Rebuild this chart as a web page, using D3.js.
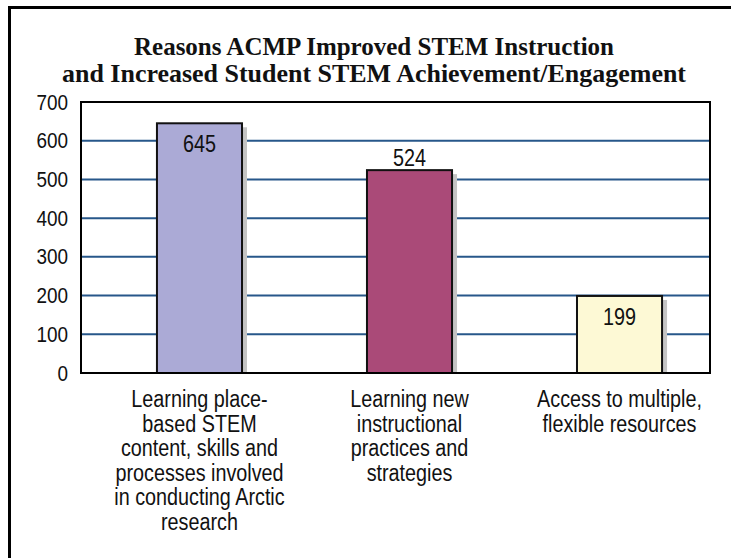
<!DOCTYPE html>
<html>
<head>
<meta charset="utf-8">
<script src="https://cdn.jsdelivr.net/npm/d3@7"></script>
<style>
  body { margin: 0; background: #fff; }
  text { font-family: "Liberation Sans", Arial, sans-serif; fill: #111; }
</style>
</head>
<body>
<script>
// data
var categories = ["place", "instr", "access"];
var values = [645, 524, 199];
var catLabels = [
  ["Learning place-", "based STEM", "content, skills and", "processes involved", "in conducting Arctic", "research"],
  ["Learning new", "instructional", "practices and", "strategies"],
  ["Access to multiple,", "flexible resources"]
];
var barColors = ["#abaad6", "#aa4a78", "#fdf9d5"];
var labelInside = [true, false, true];
var yTicks = [0, 100, 200, 300, 400, 500, 600, 700];
var titleLines = ["Reasons ACMP Improved STEM Instruction",
                  "and Increased Student STEM Achievement/Engagement"];

var W = 731, H = 558;
var plot = {left: 81, right: 710, top: 102, bottom: 373};
var narrow = 0.86; // squeeze sans text, the original uses a narrow face

var svg = d3.select("body").append("svg")
    .attr("width", W).attr("height", H);

// outer frame (only top and left edges visible)
svg.append("path")
    .attr("d", "M9.5," + (H + 5) + "V7.5H" + (W + 5))
    .attr("fill", "none").attr("stroke", "#000").attr("stroke-width", 3);

// title
var titleWidths = [480, 624];
svg.selectAll(".title").data(titleLines).enter().append("text")
    .attr("class", "title")
    .attr("x", 374)
    .attr("y", function(d, i) { return 55 + i * 27; })
    .attr("text-anchor", "middle")
    .attr("textLength", function(d, i) { return titleWidths[i]; })
    .attr("lengthAdjust", "spacingAndGlyphs")
    .style("font-family", "'Liberation Serif', 'Times New Roman', serif")
    .style("font-weight", "bold")
    .style("font-size", "26px")
    .text(function(d) { return d; });

// scales
var x = d3.scaleBand().domain(categories)
    .range([plot.left, plot.right])
    .paddingInner(0.595).paddingOuter(0.295).align(0.613);
var y = d3.scaleLinear().domain([0, 700]).range([plot.bottom, plot.top]);

// gridlines
svg.append("g").selectAll("line")
    .data(yTicks.filter(function(d) { return d > 0 && d < 700; }))
    .enter().append("line")
    .attr("x1", plot.left).attr("x2", plot.right)
    .attr("y1", function(d) { return y(d); })
    .attr("y2", function(d) { return y(d); })
    .attr("stroke", "#27578a").attr("stroke-width", 2);

// bar shadows
svg.append("g").selectAll("rect")
    .data(values).enter().append("rect")
    .attr("x", function(d, i) { return x(categories[i]) + 4; })
    .attr("y", function(d) { return y(d) + 4; })
    .attr("width", x.bandwidth() + 1)
    .attr("height", function(d) { return plot.bottom - y(d) - 4; })
    .attr("fill", "#c4c4c4");

// bars
svg.append("g").selectAll("rect")
    .data(values).enter().append("rect")
    .attr("x", function(d, i) { return x(categories[i]); })
    .attr("y", function(d) { return y(d); })
    .attr("width", x.bandwidth())
    .attr("height", function(d) { return plot.bottom - y(d); })
    .attr("fill", function(d, i) { return barColors[i]; })
    .attr("stroke", "#111").attr("stroke-width", 2);

// value labels
svg.append("g").selectAll("text")
    .data(values).enter().append("text")
    .attr("transform", function(d, i) {
      var cx = x(categories[i]) + x.bandwidth() / 2;
      var cy = labelInside[i] ? y(d) + 29 : y(d) - 4;
      return "translate(" + cx + "," + cy + ") scale(" + narrow + ",1)";
    })
    .attr("text-anchor", "middle")
    .style("font-size", "23px")
    .text(function(d) { return d; });

// plot frame
svg.append("rect")
    .attr("x", plot.left).attr("y", plot.top)
    .attr("width", plot.right - plot.left)
    .attr("height", plot.bottom - plot.top)
    .attr("fill", "none").attr("stroke", "#000").attr("stroke-width", 2);

// y axis labels
var yAxis = d3.axisLeft(y).tickValues(yTicks).tickSize(0).tickPadding(12);
var gy = svg.append("g")
    .attr("transform", "translate(" + plot.left + ",0)")
    .call(yAxis);
gy.select(".domain").remove();
gy.selectAll("text")
    .attr("x", -13 / narrow)
    .attr("transform", "scale(" + narrow + ",1)")
    .style("font-family", "'Liberation Sans', Arial, sans-serif")
    .style("font-size", "22px")
    .attr("fill", "#111");

// category labels
var cat = svg.append("g").selectAll("text")
    .data(catLabels).enter().append("text")
    .attr("transform", function(d, i) {
      var cx = x(categories[i]) + x.bandwidth() / 2;
      return "translate(" + cx + ",407) scale(" + narrow + ",1)";
    })
    .attr("text-anchor", "middle")
    .style("font-size", "23px");
cat.selectAll("tspan")
    .data(function(d) { return d; }).enter().append("tspan")
    .attr("x", 0)
    .attr("dy", function(d, i) { return i === 0 ? 0 : 24.6; })
    .text(function(d) { return d; });
</script>
</body>
</html>
